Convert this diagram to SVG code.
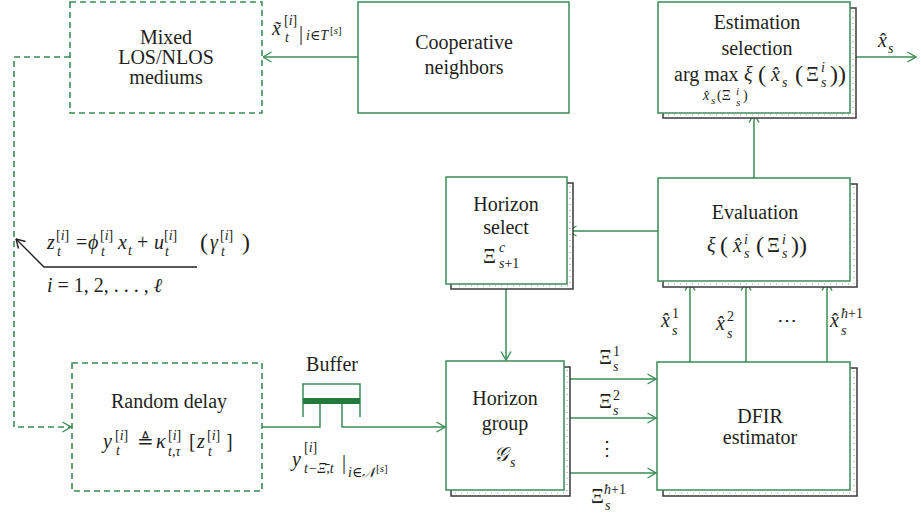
<svg xmlns="http://www.w3.org/2000/svg" width="921" height="513" viewBox="0 0 921 513" font-family="'Liberation Serif', 'DejaVu Serif', serif">
<style>
text{font-family:'Liberation Serif','DejaVu Serif',serif;fill:#231f20;font-size:20px}
.c{text-anchor:middle}
.i{font-style:italic}
.s{font-size:14px}
.ss{font-size:11px}
.p{font-size:24px}
.box{fill:#fff;stroke:#3a8d55;stroke-width:1.5}
.dbox{fill:#fff;stroke:#3a8d55;stroke-width:1.6;stroke-dasharray:6 4}
.sh{fill:#fff;stroke:#3a3a3a;stroke-width:1.5}
.dot{fill:none;stroke:#9a9a9a;stroke-width:1.2;stroke-dasharray:1 5}
.ln{fill:none;stroke:#3a8d55;stroke-width:1.5}
.dln{fill:none;stroke:#3a8d55;stroke-width:1.6;stroke-dasharray:6 4}
</style>
<defs>
<marker id="ag" viewBox="0 0 10 12" refX="9.5" refY="6" markerWidth="10" markerHeight="12" orient="auto" markerUnits="userSpaceOnUse">
<path d="M1,1 L9.5,6 L1,11" fill="none" stroke="#3a8d55" stroke-width="1.4"/>
</marker>
<marker id="ak" viewBox="0 0 10 12" refX="9.5" refY="6" markerWidth="10" markerHeight="12" orient="auto" markerUnits="userSpaceOnUse">
<path d="M1,1 L9.5,6 L1,11" fill="none" stroke="#231f20" stroke-width="1.4"/>
</marker>
</defs>

<g id="connectors">
<path class="ln" d="M358,57 H263" marker-end="url(#ag)"/>
<path class="dln" d="M70,57 H14 V427 H71" marker-end="url(#ag)"/>
<path class="ln" d="M850,57 H916" marker-end="url(#ag)"/>
<path class="ln" d="M754,178 V114" marker-end="url(#ag)"/>
<path class="ln" d="M658,231 H568" marker-end="url(#ag)"/>
<path class="ln" d="M506,284 V360" marker-end="url(#ag)"/>
<path class="ln" d="M564,379 H656" marker-end="url(#ag)"/>
<path class="ln" d="M564,418 H656" marker-end="url(#ag)"/>
<path class="ln" d="M564,473 H656" marker-end="url(#ag)"/>
<path class="ln" d="M690,362 V282" marker-end="url(#ag)"/>
<path class="ln" d="M746,362 V282" marker-end="url(#ag)"/>
<path class="ln" d="M827,362 V282" marker-end="url(#ag)"/>
<path class="ln" d="M262,427 H320 V404"/>
<path class="ln" d="M342,404 V427 H445" marker-end="url(#ag)"/>
<path fill="none" stroke="#231f20" stroke-width="1.4" d="M197,267 H44 L16,239" marker-end="url(#ak)"/>
</g>

<g id="mixed">
<rect class="dbox" x="70" y="2" width="192" height="111"/>
<text class="c" x="166" y="44">Mixed</text>
<text class="c" x="166" y="64">LOS/NLOS</text>
<text class="c" x="166" y="84">mediums</text>
</g>

<g id="coop-label">
<text class="i" x="272" y="35">x̃</text>
<text class="s" x="284" y="25">[<tspan class="i">i</tspan>]</text>
<text class="s i" x="285" y="42">t</text>
<text x="299" y="40" font-size="22">|</text>
<text class="s i" x="306" y="40">i∈T</text>
<text class="ss" x="330" y="34">[<tspan class="i">s</tspan>]</text>
</g>

<g id="cooperative">
<rect class="box" x="358" y="2" width="211" height="111"/>
<text class="c" x="464" y="49">Cooperative</text>
<text class="c" x="464" y="74">neighbors</text>
</g>

<g id="estimation">
<rect class="sh" x="663" y="8" width="193" height="110"/>
<path class="dot" d="M853,11 V115 H666"/>
<rect class="box" x="658" y="2" width="192" height="111"/>
<text class="c" x="757" y="29">Estimation</text>
<text class="c" x="757" y="55">selection</text>
<text x="674" y="81">arg max</text>
<text class="i" x="744" y="81">ξ</text>
<text class="p" x="758" y="82">(</text>
<text class="i" x="771" y="81">x̂</text>
<text class="s i" x="782" y="87">s</text>
<text class="p" x="795" y="82">(</text>
<text x="806" y="81">Ξ</text>
<text class="s i" x="821" y="72">i</text>
<text class="s i" x="821" y="87">s</text>
<text class="p" x="830" y="82">))</text>
<text class="s i" x="703" y="100">x̂</text>
<text class="ss i" x="711" y="104">s</text>
<text class="s" x="717" y="100">(Ξ</text>
<text class="ss i" x="736" y="95">i</text>
<text class="ss i" x="736" y="106">s</text>
<text class="s" x="743" y="100">)</text>
</g>

<g id="out-label">
<text class="i" x="878" y="47">x̂</text>
<text class="s i" x="888" y="53">s</text>
</g>

<g id="evaluation">
<rect class="sh" x="663" y="184" width="194" height="103"/>
<path class="dot" d="M854,187 V284 H666"/>
<rect class="box" x="658" y="178" width="192" height="103"/>
<text class="c" x="755" y="219">Evaluation</text>
<text class="i" x="707" y="252">ξ</text>
<text class="p" x="720" y="253">(</text>
<text class="i" x="733" y="252">x̂</text>
<text class="s i" x="744" y="244">i</text>
<text class="s i" x="744" y="258">s</text>
<text class="p" x="756" y="253">(</text>
<text x="767" y="252">Ξ</text>
<text class="s i" x="782" y="244">i</text>
<text class="s i" x="782" y="258">s</text>
<text class="p" x="791" y="253">))</text>
</g>

<g id="horizon-select">
<rect class="sh" x="451" y="183" width="122" height="106"/>
<path class="dot" d="M570,186 V286 H454"/>
<rect class="box" x="446" y="177" width="121" height="107"/>
<text class="c" x="506" y="211">Horizon</text>
<text class="c" x="506" y="234">select</text>
<text x="483" y="263">Ξ</text>
<text class="s i" x="499" y="252">c</text>
<text class="s" x="499" y="268"><tspan class="i">s</tspan>+1</text>
</g>

<g id="horizon-group">
<rect class="sh" x="451" y="367" width="119" height="129"/>
<path class="dot" d="M567,370 V493 H454"/>
<rect class="box" x="446" y="361" width="118" height="129"/>
<text class="c" x="505" y="405">Horizon</text>
<text class="c" x="505" y="430">group</text>
<text class="i" x="494" y="461">𝒢</text>
<text class="s i" x="510" y="467">s</text>
</g>

<g id="dfir">
<rect class="sh" x="663" y="368" width="194" height="128"/>
<path class="dot" d="M854,371 V493 H666"/>
<rect class="box" x="657" y="362" width="193" height="128"/>
<text class="c" x="760" y="423">DFIR</text>
<text class="c" x="760" y="444">estimator</text>
</g>

<g id="xi-labels">
<text x="599" y="364">Ξ</text>
<text class="s" x="613" y="356">1</text>
<text class="s i" x="613" y="371">s</text>
<text x="599" y="408">Ξ</text>
<text class="s" x="613" y="400">2</text>
<text class="s i" x="613" y="415">s</text>
<text class="c" x="607" y="455">⋮</text>
<text x="591" y="503">Ξ</text>
<text class="s" x="604" y="494"><tspan class="i">ħ</tspan>+1</text>
<text class="s i" x="605" y="510">s</text>
</g>

<g id="xhat-labels">
<text class="i" x="661" y="327">x̂</text>
<text class="s" x="672" y="318">1</text>
<text class="s i" x="672" y="335">s</text>
<text class="i" x="716" y="330">x̂</text>
<text class="s" x="727" y="321">2</text>
<text class="s i" x="727" y="338">s</text>
<text class="c" x="787" y="327">⋯</text>
<text class="i" x="830" y="327">x̂</text>
<text class="s" x="841" y="318"><tspan class="i">ħ</tspan>+1</text>
<text class="s i" x="841" y="335">s</text>
</g>

<g id="observation">
<text class="i" x="47" y="249">z</text>
<text class="s" x="56" y="240">[<tspan class="i">i</tspan>]</text>
<text class="s i" x="57" y="256">t</text>
<text x="76" y="249">=</text>
<text class="i" x="88" y="249">ϕ</text>
<text class="s" x="100" y="240">[<tspan class="i">i</tspan>]</text>
<text class="s i" x="101" y="256">t</text>
<text class="i" x="118" y="249">x</text>
<text class="s i" x="128" y="255">t</text>
<text x="137" y="249">+</text>
<text class="i" x="154" y="249">u</text>
<text class="s" x="164" y="240">[<tspan class="i">i</tspan>]</text>
<text class="s i" x="165" y="256">t</text>
<text class="p" x="200" y="250">(</text>
<text class="i" x="210" y="249">γ</text>
<text class="s" x="220" y="240">[<tspan class="i">i</tspan>]</text>
<text class="s i" x="221" y="256">t</text>
<text class="p" x="242" y="250">)</text>
<text x="47" y="292"><tspan class="i">i</tspan> = 1, 2, . . . , <tspan class="i">ℓ</tspan></text>
</g>

<g id="random-delay">
<rect class="dbox" x="72" y="363" width="190" height="128"/>
<text class="c" x="169" y="408">Random delay</text>
<text class="i" x="103" y="448">y</text>
<text class="s" x="115" y="440">[<tspan class="i">i</tspan>]</text>
<text class="s i" x="116" y="455">t</text>
<text x="137" y="448">≜</text>
<text class="i" x="156" y="448">κ</text>
<text class="s" x="168" y="440">[<tspan class="i">i</tspan>]</text>
<text class="s i" x="168" y="456">t,τ</text>
<text x="189" y="448">[</text>
<text class="i" x="197" y="448">z</text>
<text class="s" x="207" y="440">[<tspan class="i">i</tspan>]</text>
<text class="s i" x="208" y="456">t</text>
<text x="226" y="448">]</text>
</g>

<g id="buffer">
<text class="c" x="332" y="371">Buffer</text>
<path class="ln" d="M303,417 V384 H360 V417"/>
<rect x="303" y="398" width="57" height="6" fill="#237a3c"/>
<text class="i" x="292" y="466">y</text>
<text class="s" x="304" y="452">[<tspan class="i">i</tspan>]</text>
<text class="s i" x="304" y="473">t−Ξ̄,t</text>
<text x="342" y="469" font-size="22">|</text>
<text class="s i" x="348" y="477">i∈𝒩</text>
<text class="ss" x="376" y="472">[<tspan class="i">s</tspan>]</text>
</g>
</svg>
